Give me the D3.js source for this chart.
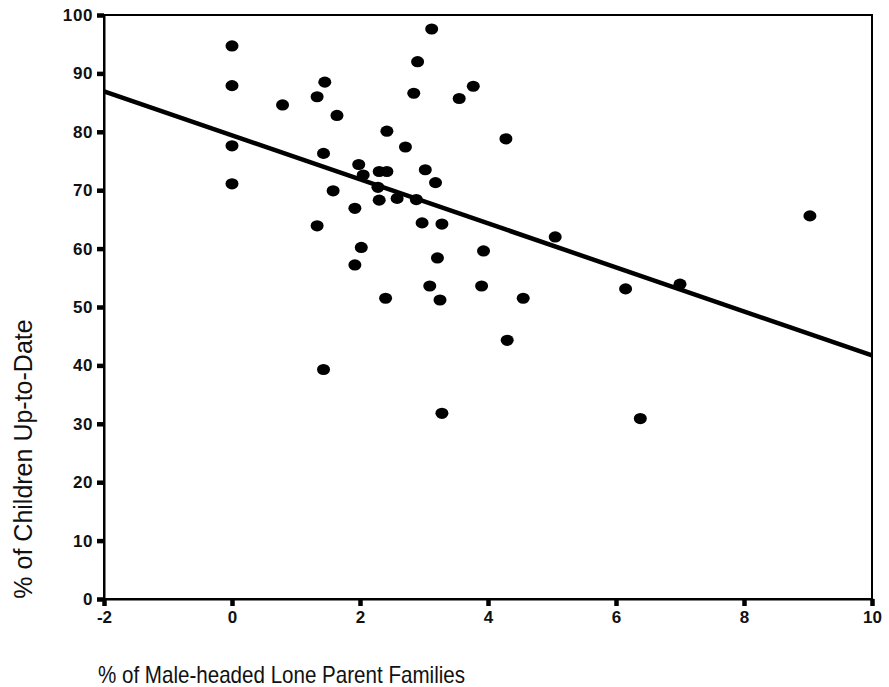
<!DOCTYPE html>
<html>
<head>
<meta charset="utf-8">
<script src="https://cdn.jsdelivr.net/npm/d3@7"></script>
<style>
  html, body { margin: 0; padding: 0; background: #fff; }
  svg { display: block; }
</style>
</head>
<body>
<svg id="chart" width="889" height="687"></svg>
<script>
// Percentage of male-headed lone parent families (x) per area
const maleHeaded = [
  0, 0, 0, 0, 0.79, 1.33, 1.45, 1.64, 1.43, 1.58,
  1.33, 1.43, 1.98, 2.05, 2.30, 2.42, 2.28, 2.30, 2.58, 2.88,
  1.92, 2.02, 1.92, 2.40, 2.42, 2.71, 2.84, 2.90, 3.12, 3.02,
  3.18, 2.97, 3.28, 3.21, 3.09, 3.25, 3.28, 3.55, 3.77, 3.93,
  3.90, 4.28, 4.30, 4.55, 5.05, 6.15, 6.38, 7.00, 9.03
];
// Percentage of children with up-to-date immunisation (y)
const upToDate = [
  94.7, 87.9, 77.6, 71.1, 84.6, 86.0, 88.5, 82.8, 76.3, 69.9,
  63.9, 39.3, 74.4, 72.6, 73.2, 73.2, 70.5, 68.3, 68.6, 68.4,
  66.9, 60.2, 57.2, 51.5, 80.1, 77.4, 86.6, 92.0, 97.6, 73.5,
  71.3, 64.4, 64.2, 58.4, 53.6, 51.2, 31.8, 85.7, 87.8, 59.6,
  53.6, 78.8, 44.3, 51.5, 62.0, 53.1, 30.9, 53.9, 65.6
];
// Fitted regression line
const fitIntercept = 79.4;
const fitSlope = -3.77;

const xTicks = [-2, 0, 2, 4, 6, 8, 10];
const yTicks = [0, 10, 20, 30, 40, 50, 60, 70, 80, 90, 100];
const xTitle = "% of Male-headed Lone Parent Families";
const yTitle = "% of Children Up-to-Date";

const svg = d3.select("#chart");
const plotL = 104, plotR = 872, plotT = 15, plotB = 599;

const x = d3.scaleLinear().domain([-2, 10]).range([plotL, plotR]);
const y = d3.scaleLinear().domain([0, 100]).range([plotB, plotT]);

// Frame around the plot area
svg.append("rect")
  .attr("x", plotL).attr("y", plotT)
  .attr("width", plotR - plotL).attr("height", plotB - plotT)
  .attr("fill", "none").attr("stroke", "#000").attr("stroke-width", 2);

// Y axis
const yAxis = svg.append("g")
  .attr("transform", `translate(${plotL},0)`)
  .call(d3.axisLeft(y).tickValues(yTicks).tickSize(7).tickPadding(4)
    .tickFormat(d => String(d)));
yAxis.select(".domain").attr("stroke-width", 2);
yAxis.selectAll(".tick line").attr("stroke-width", 4.5);
yAxis.selectAll(".tick text")
  .attr("font-family", "Liberation Sans, Arial, sans-serif")
  .attr("font-size", 17).attr("font-weight", "bold")
  .attr("letter-spacing", 0.6).attr("fill", "#111");

// X axis
const xAxis = svg.append("g")
  .attr("transform", `translate(0,${plotB})`)
  .call(d3.axisBottom(x).tickValues(xTicks).tickSize(7).tickPadding(5)
    .tickFormat(d => String(d)));
xAxis.select(".domain").attr("stroke-width", 2);
xAxis.selectAll(".tick line").attr("stroke-width", 4.5);
xAxis.selectAll(".tick text")
  .attr("font-family", "Liberation Sans, Arial, sans-serif")
  .attr("font-size", 17).attr("font-weight", "bold").attr("fill", "#111");

// Points
const pts = maleHeaded.map((v, i) => ({ mx: v, up: upToDate[i] }));
svg.append("g").selectAll("ellipse")
  .data(pts)
  .join("ellipse")
  .attr("cx", d => x(d.mx))
  .attr("cy", d => y(d.up))
  .attr("rx", 6.5).attr("ry", 5.6)
  .attr("fill", "#000");

// Regression line across the full x domain
const [x0, x1] = x.domain();
svg.append("line")
  .attr("x1", x(x0)).attr("y1", y(fitIntercept + fitSlope * x0))
  .attr("x2", x(x1)).attr("y2", y(fitIntercept + fitSlope * x1))
  .attr("stroke", "#000").attr("stroke-width", 4.5);

// Axis titles
svg.append("text")
  .attr("x", 98).attr("y", 683)
  .attr("font-family", "Liberation Sans, Arial, sans-serif")
  .attr("font-size", 24).attr("fill", "#111")
  .attr("textLength", 367).attr("lengthAdjust", "spacingAndGlyphs")
  .text(xTitle);

svg.append("text")
  .attr("transform", "translate(32,459) rotate(-90)")
  .attr("text-anchor", "middle")
  .attr("font-family", "Liberation Sans, Arial, sans-serif")
  .attr("font-size", 25).attr("fill", "#111")
  .text(yTitle);
</script>
</body>
</html>
